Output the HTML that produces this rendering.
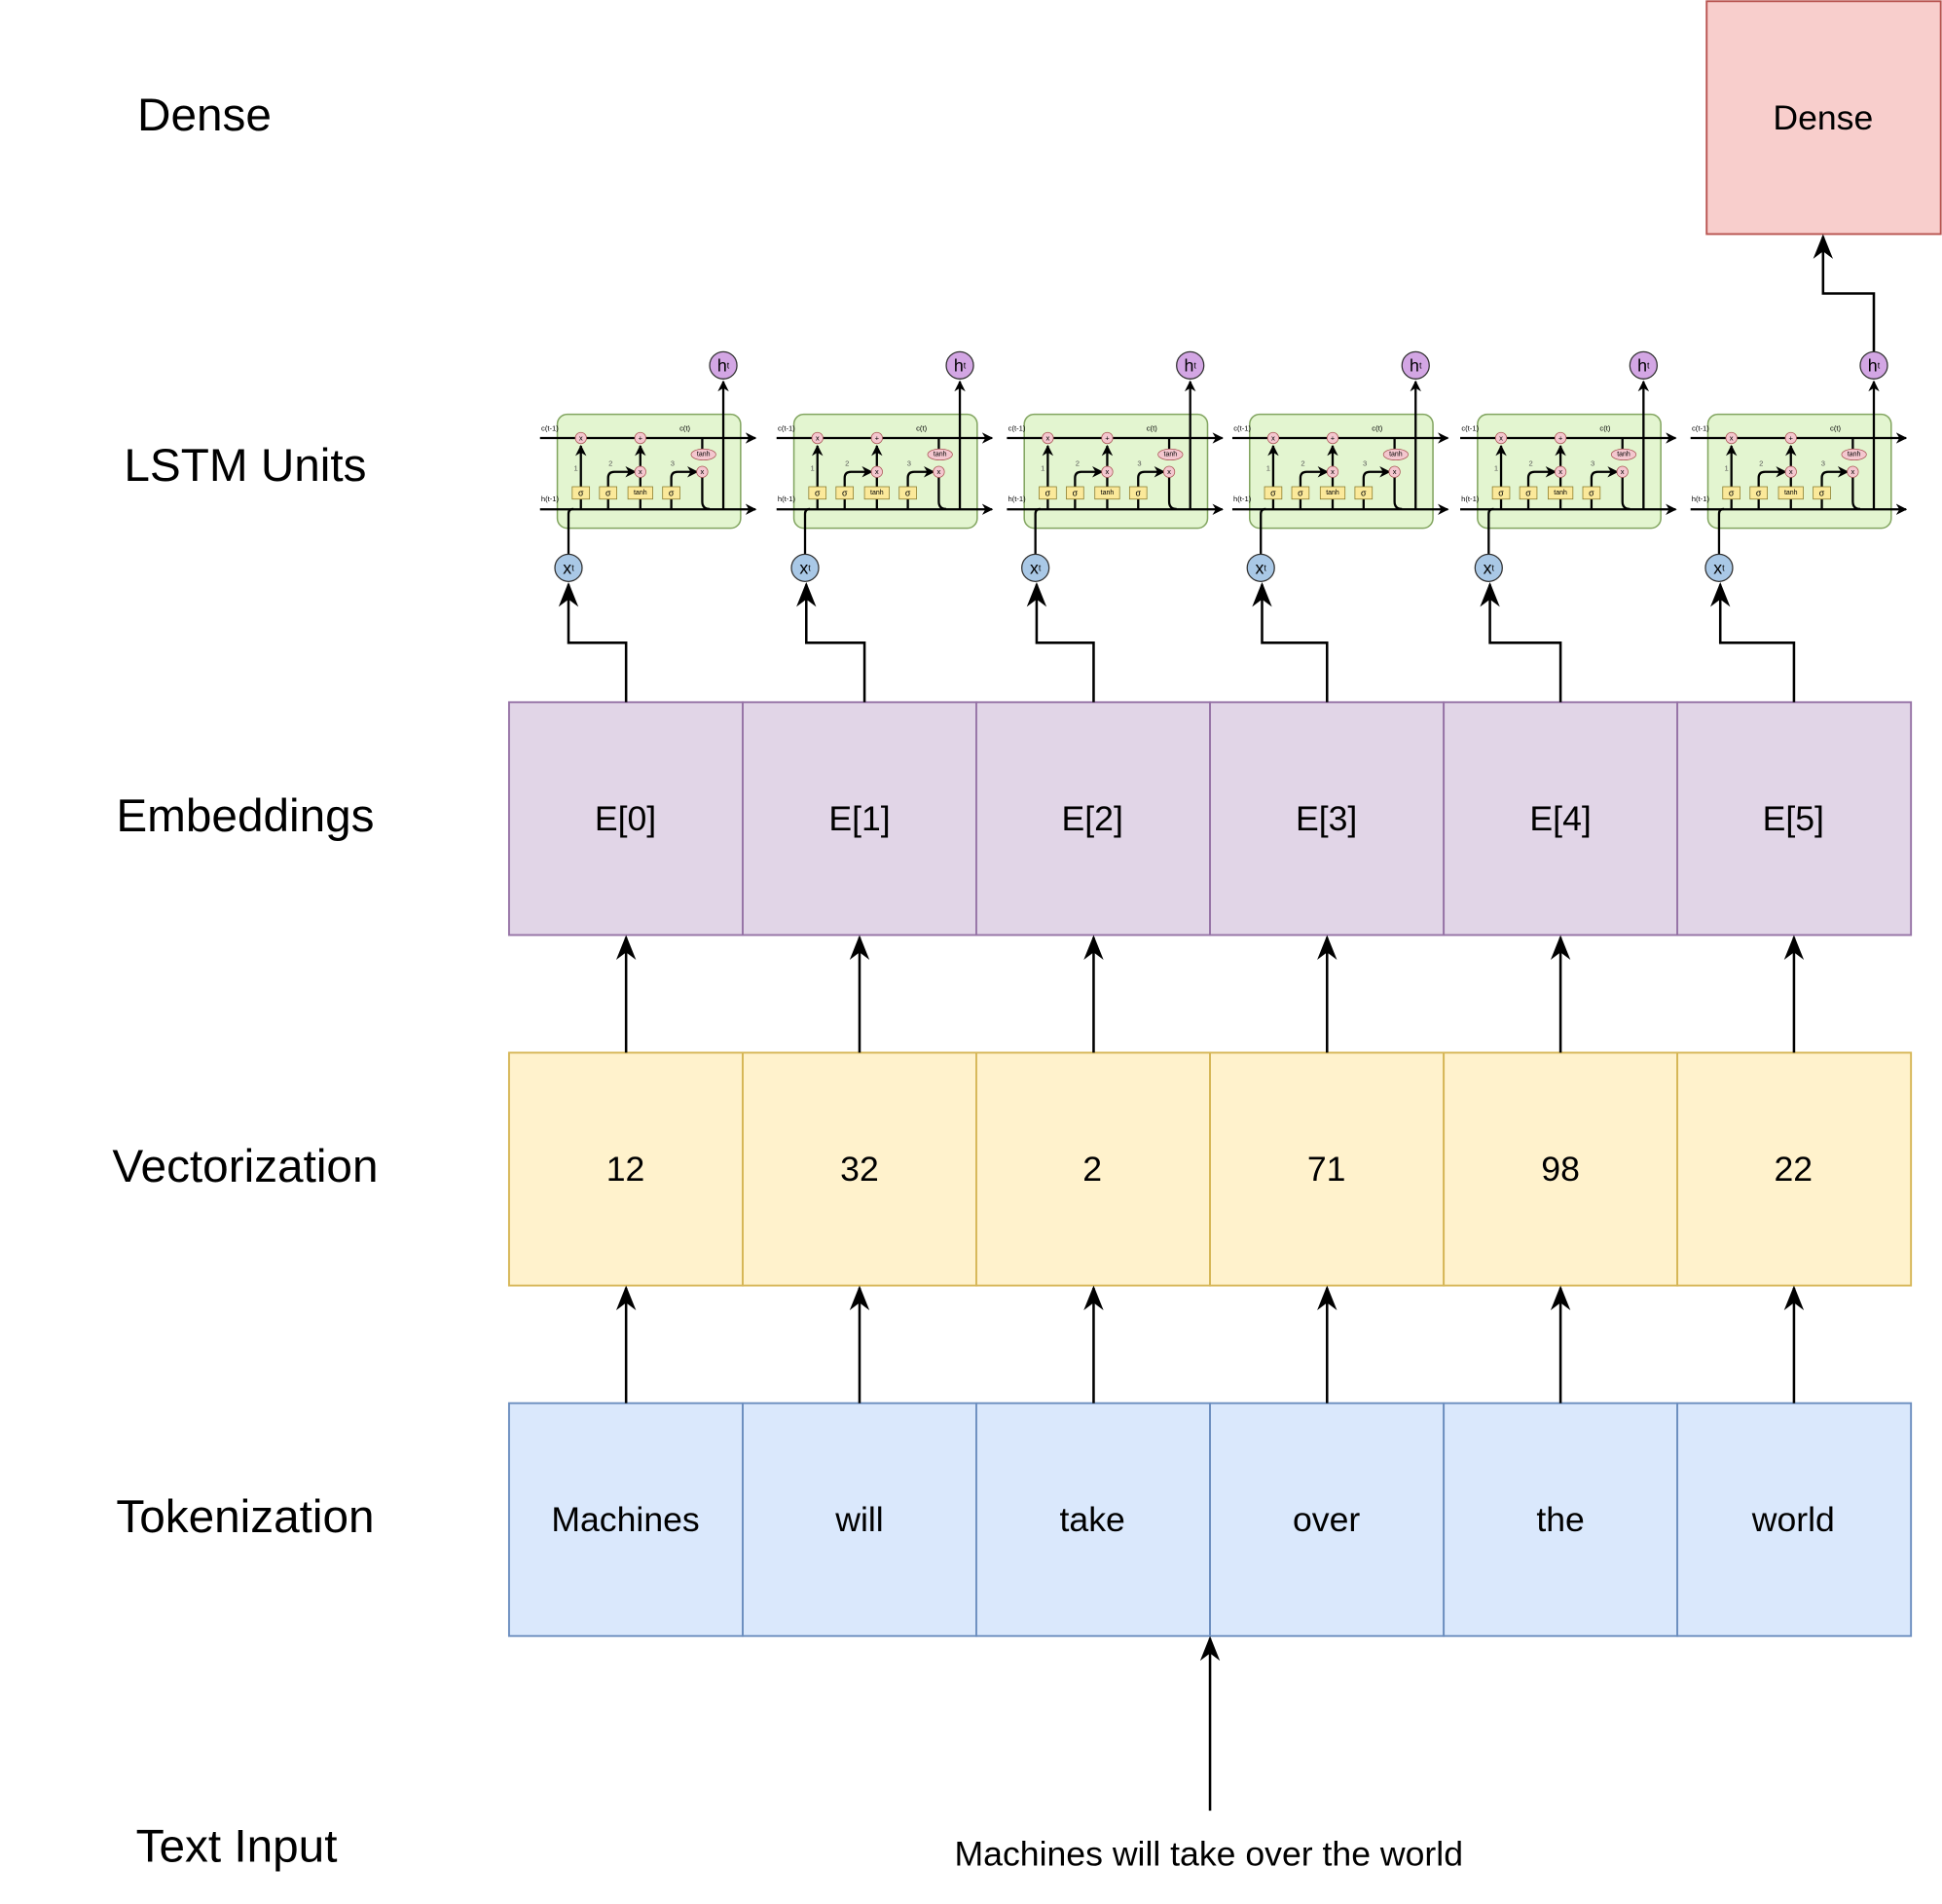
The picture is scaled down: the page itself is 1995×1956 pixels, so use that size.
<!DOCTYPE html>
<html><head><meta charset="utf-8"><style>html,body{margin:0;padding:0;background:#fff}svg{display:block}</style></head>
<body>
<svg width="1995" height="1956" viewBox="0 0 1568 1537.4" xmlns="http://www.w3.org/2000/svg" font-family="Liberation Sans, sans-serif">
<defs>
<marker id="a" viewBox="0 0 10 10" refX="9" refY="5" markerWidth="9" markerHeight="9" markerUnits="userSpaceOnUse" orient="auto"><path d="M0,0 L10,5 L0,10 L3,5 z" fill="#000"/></marker>
<marker id="b" viewBox="0 0 10 10" refX="9" refY="5" markerWidth="20" markerHeight="20" markerUnits="userSpaceOnUse" orient="auto"><path d="M0,1 L10,5 L0,9 L3,5 z" fill="#000"/></marker>
<g id="u">
<rect x="0" y="334.5" width="148" height="92" rx="8" fill="#e3f5d0" stroke="#82a560" stroke-width="1.2"/>
<g stroke="#000" stroke-width="1.8" fill="none">
<line x1="-14" y1="353.7" x2="160" y2="353.7" marker-end="url(#a)"/>
<line x1="-14" y1="411.3" x2="160" y2="411.3" marker-end="url(#a)"/>
<path d="M19,411.3 V360" marker-end="url(#a)"/>
<path d="M41,411.3 V386 q0,-5 5,-5 H63" marker-end="url(#a)"/>
<path d="M67,411.3 V360" marker-end="url(#a)"/>
<path d="M92,411.3 V386 q0,-5 5,-5 H113" marker-end="url(#a)"/>
<path d="M117,353.7 V363"/>
<path d="M117,385 V405 q0,6 6,6"/>
<path d="M134,411.3 V308" marker-end="url(#a)"/>
<path d="M9,452 V415 q0,-4 4,-4"/>
</g>
<g font-size="7" text-anchor="middle" dominant-baseline="central">
<rect x="12" y="393" width="14" height="10" fill="#fbe99a" stroke="#8a7a2a" stroke-width=".6"/><text x="19" y="398">σ</text>
<rect x="34" y="393" width="14" height="10" fill="#fbe99a" stroke="#8a7a2a" stroke-width=".6"/><text x="41" y="398">σ</text>
<rect x="57" y="393" width="20" height="10" fill="#fbe99a" stroke="#8a7a2a" stroke-width=".6"/><text x="67" y="398" font-size="5.5">tanh</text>
<rect x="85" y="393" width="14" height="10" fill="#fbe99a" stroke="#8a7a2a" stroke-width=".6"/><text x="92" y="398">σ</text>
<circle cx="19" cy="353.7" r="4.5" fill="#f4c7cf" stroke="#a55" stroke-width=".6"/><text x="19" y="353.7" font-size="6">x</text>
<circle cx="67" cy="353.7" r="4.5" fill="#f4c7cf" stroke="#a55" stroke-width=".6"/><text x="67" y="353.7" font-size="6">+</text>
<circle cx="67" cy="381" r="4.5" fill="#f4c7cf" stroke="#a55" stroke-width=".6"/><text x="67" y="381" font-size="6">x</text>
<circle cx="117" cy="381" r="4.5" fill="#f4c7cf" stroke="#a55" stroke-width=".6"/><text x="117" y="381" font-size="6">x</text>
<ellipse cx="118" cy="367" rx="10" ry="4.5" fill="#f4c7cf" stroke="#a55" stroke-width=".6"/><text x="118" y="367" font-size="5.5">tanh</text>
<text x="-6" y="346" font-size="6">c(t-1)</text><text x="103" y="346" font-size="6">c(t)</text><text x="-6" y="403" font-size="6">h(t-1)</text>
<text x="15" y="378" font-size="6" fill="#555">1</text><text x="43" y="374" font-size="6" fill="#555">2</text><text x="93" y="374" font-size="6" fill="#555">3</text>
<circle cx="9" cy="458.5" r="11" fill="#a9c8e6" stroke="#333" stroke-width="1"/><text x="9" y="458.5" font-size="14">x<tspan font-size="7">t</tspan></text>
<circle cx="134" cy="295" r="11" fill="#d3a6e4" stroke="#333" stroke-width="1"/><text x="134" y="295" font-size="14">h<tspan font-size="7">t</tspan></text>
</g>
</g>
</defs>
<g font-size="37.5" text-anchor="middle" dominant-baseline="central">
<text x="165" y="93">Dense</text><text x="198" y="376">LSTM Units</text><text x="198" y="659">Embeddings</text><text x="198" y="942">Vectorization</text><text x="198" y="1225">Tokenization</text><text x="191" y="1491">Text Input</text>
</g>
<rect x="1378" y="1" width="189" height="188" fill="#f8cecc" stroke="#b85450" stroke-width="1.5"/>
<text x="1472" y="95" font-size="28" text-anchor="middle" dominant-baseline="central">Dense</text>
<g stroke-width="1.5">
<g fill="#e1d5e7" stroke="#9673a6"><rect x="411" y="567" width="188.7" height="188"/><rect x="599.7" y="567" width="188.7" height="188"/><rect x="788.3" y="567" width="188.7" height="188"/><rect x="977" y="567" width="188.7" height="188"/><rect x="1165.7" y="567" width="188.7" height="188"/><rect x="1354.3" y="567" width="188.7" height="188"/></g>
<g fill="#fff2cc" stroke="#d6b656"><rect x="411" y="850" width="188.7" height="188"/><rect x="599.7" y="850" width="188.7" height="188"/><rect x="788.3" y="850" width="188.7" height="188"/><rect x="977" y="850" width="188.7" height="188"/><rect x="1165.7" y="850" width="188.7" height="188"/><rect x="1354.3" y="850" width="188.7" height="188"/></g>
<g fill="#dae8fc" stroke="#6c8ebf"><rect x="411" y="1133" width="188.7" height="188"/><rect x="599.7" y="1133" width="188.7" height="188"/><rect x="788.3" y="1133" width="188.7" height="188"/><rect x="977" y="1133" width="188.7" height="188"/><rect x="1165.7" y="1133" width="188.7" height="188"/><rect x="1354.3" y="1133" width="188.7" height="188"/></g>
</g>
<g font-size="28" text-anchor="middle" dominant-baseline="central">
<text x="505" y="661">E[0]</text><text x="694" y="661">E[1]</text><text x="882" y="661">E[2]</text><text x="1071" y="661">E[3]</text><text x="1260" y="661">E[4]</text><text x="1448" y="661">E[5]</text>
<text x="505" y="944">12</text><text x="694" y="944">32</text><text x="882" y="944">2</text><text x="1071" y="944">71</text><text x="1260" y="944">98</text><text x="1448" y="944">22</text>
<text x="505" y="1227">Machines</text><text x="694" y="1227">will</text><text x="882" y="1227">take</text><text x="1071" y="1227">over</text><text x="1260" y="1227">the</text><text x="1448" y="1227">world</text>
<text x="976" y="1497">Machines will take over the world</text>
</g>
<g stroke="#000" stroke-width="2" fill="none">
<path d="M977,1462 V1323" marker-end="url(#b)"/>
<path d="M505.5,1133 V1040" marker-end="url(#b)"/><path d="M694,1133 V1040" marker-end="url(#b)"/><path d="M883,1133 V1040" marker-end="url(#b)"/><path d="M1071.5,1133 V1040" marker-end="url(#b)"/><path d="M1260,1133 V1040" marker-end="url(#b)"/><path d="M1448.5,1133 V1040" marker-end="url(#b)"/>
<path d="M505.5,850 V757" marker-end="url(#b)"/><path d="M694,850 V757" marker-end="url(#b)"/><path d="M883,850 V757" marker-end="url(#b)"/><path d="M1071.5,850 V757" marker-end="url(#b)"/><path d="M1260,850 V757" marker-end="url(#b)"/><path d="M1448.5,850 V757" marker-end="url(#b)"/>
<path d="M505.5,567 V519 H459 V472" marker-end="url(#b)"/>
<path d="M698,567 V519 H651 V472" marker-end="url(#b)"/>
<path d="M883,567 V519 H837 V472" marker-end="url(#b)"/>
<path d="M1071.5,567 V519 H1019 V472" marker-end="url(#b)"/>
<path d="M1260,567 V519 H1203 V472" marker-end="url(#b)"/>
<path d="M1448.5,567 V519 H1389 V472" marker-end="url(#b)"/>
<path d="M1513,284 V237 H1472 V191" marker-end="url(#b)"/>
</g>
<use href="#u" x="450"/><use href="#u" x="641"/><use href="#u" x="827"/><use href="#u" x="1009"/><use href="#u" x="1193"/><use href="#u" x="1379"/>
</svg>
</body></html>
